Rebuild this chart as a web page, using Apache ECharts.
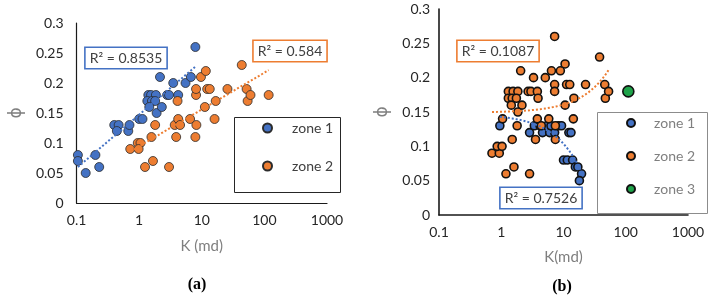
<!DOCTYPE html>
<html>
<head>
<meta charset="utf-8">
<script src="https://cdn.jsdelivr.net/npm/echarts@6.0.0/dist/echarts.min.js"></script>
<style>
  body { margin: 0; background: #fff; }
  #chartA, #chartB { position: absolute; top: 0; height: 296px; }
  #chartA { left: 0; width: 360px; }
  #chartB { left: 360px; width: 349px; }
</style>
</head>
<body>
<div id="chartA"></div>
<div id="chartB"></div>
<script>
// (a) porosity vs permeability, two zones
const aZone1K = [0.105, 0.105, 0.14, 0.20, 0.23, 0.40, 0.47, 0.44, 0.67, 0.70, 1.0, 1.13,
    1.4, 1.55, 1.85, 1.35, 1.6, 1.8, 1.45, 1.9, 2.3, 2.15, 2.8, 3.0, 3.5, 4.2, 5.5, 6.7, 7.9];
const aZone1Phi = [0.08, 0.07, 0.05, 0.08, 0.06, 0.13, 0.13, 0.12, 0.12, 0.13, 0.14, 0.14,
    0.18, 0.18, 0.18, 0.17, 0.17, 0.17, 0.16, 0.15, 0.16, 0.21, 0.18, 0.18, 0.20, 0.18, 0.20, 0.21, 0.26];
const aZone2K = [0.72, 0.95, 1.05, 0.98, 1.24, 1.57, 1.66, 1.8, 3.0, 3.7, 3.9, 4.1, 4.2, 4.5, 6.5, 7.9,
    8.1, 8.1, 8.2, 9.7, 11.6, 11.2, 12.2, 13.4, 16.7, 16.0, 25.7, 43.5, 52, 54, 60, 117];
const aZone2Phi = [0.09, 0.10, 0.10, 0.09, 0.06, 0.11, 0.07, 0.13, 0.06, 0.13, 0.11, 0.17, 0.14, 0.13, 0.14, 0.11,
    0.18, 0.19, 0.13, 0.21, 0.22, 0.16, 0.19, 0.19, 0.17, 0.14, 0.19, 0.23, 0.19, 0.17, 0.18, 0.18];

// (b) same plot, three zones
const bZone1K = [0.95, 2.85, 3.4, 4.2, 4.6, 5.4, 6.0, 6.3, 7.2, 8.3, 9.3, 12.2, 13.2,
    10, 11.5, 14, 15.5, 17, 19.5, 18];
const bZone1Phi = [0.13, 0.12, 0.13, 0.13, 0.12, 0.13, 0.12, 0.13, 0.12, 0.13, 0.13, 0.12, 0.12,
    0.08, 0.08, 0.08, 0.07, 0.07, 0.06, 0.05];
const bZone2K = [0.71, 0.93, 0.86, 1.03, 1.05, 1.19, 1.6, 1.5, 1.3, 1.55, 1.85, 1.3, 1.5, 1.75, 1.45,
    2.15, 1.85, 1.8, 2.05, 2.7, 3.0, 3.3, 3.8, 3.9, 2.85, 3.55, 3.8, 4.4, 5.1, 6.4, 8.9, 10.6,
    7.2, 7.2, 7.2, 5.8, 7.4, 7.4, 11.2, 12.6, 14.7, 10.6, 14.4, 22.6, 38, 46, 47, 53];
const bZone2Phi = [0.09, 0.09, 0.10, 0.10, 0.14, 0.06, 0.07, 0.11, 0.18, 0.18, 0.18, 0.17, 0.17, 0.17, 0.16,
    0.16, 0.15, 0.13, 0.21, 0.18, 0.18, 0.20, 0.18, 0.17, 0.06, 0.11, 0.14, 0.13, 0.20, 0.21, 0.21, 0.22,
    0.26, 0.19, 0.18, 0.14, 0.13, 0.11, 0.19, 0.19, 0.17, 0.16, 0.14, 0.19, 0.23, 0.19, 0.17, 0.18];
const bZone3K = [110];
const bZone3Phi = [0.18];

const rSquared = { a1: '0.8535', a2: '0.584', b1: '0.7526', b2: '0.1087' };

const BLUE = '#4472C4', ORANGE = '#ED7D31', GREEN = '#1FA34A';
const FONT = 'Lato, "Noto Sans", sans-serif';

function pairs(xs, ys) {
    return xs.map((x, i) => [x, ys[i]]);
}

// least squares y = a*f(x) + b
function fit(xs, ys, f) {
    let n = xs.length, sx = 0, sy = 0, sxx = 0, sxy = 0;
    for (let i = 0; i < n; i++) {
        let u = f(xs[i]);
        sx += u; sy += ys[i]; sxx += u * u; sxy += u * ys[i];
    }
    let a = (n * sxy - sx * sy) / (n * sxx - sx * sx);
    let b = (sy - a * sx) / n;
    return x => a * f(x) + b;
}

function trendLine(xs, ys, kind) {
    let fn = fit(xs, ys, kind === 'log' ? Math.log : (x => x));
    let lo = Math.min(...xs), hi = Math.max(...xs);
    let out = [];
    for (let i = 0; i <= 80; i++) {
        let x = lo * Math.pow(hi / lo, i / 80);
        out.push([x, fn(x)]);
    }
    return out;
}

function xAxisLog(name, gap, size, lineW) {
    return {
        type: 'log', logBase: 10, min: 0.1, max: 1000,
        name: name, nameLocation: 'middle', nameGap: gap,
        nameTextStyle: { color: '#7f7f7f', fontSize: 15, fontFamily: FONT },
        axisLine: { lineStyle: { color: '#1a1a1a', width: lineW } },
        axisTick: { show: false },
        splitLine: { show: false },
        axisLabel: {
            color: '#262626', fontSize: size, fontFamily: FONT, margin: 10,
            formatter: v => String(Number(v.toPrecision(3)))
        }
    };
}

function yAxisPhi(gap, size, lineW, margin) {
    return {
        type: 'value', min: 0, max: 0.3, interval: 0.05,
        name: 'ϕ', nameLocation: 'middle', nameGap: gap,
        nameTextStyle: { color: '#7f7f7f', fontSize: 17, fontFamily: '"DejaVu Sans", sans-serif' },
        axisLine: { show: true, lineStyle: { color: '#1a1a1a', width: lineW } },
        axisTick: { show: false },
        splitLine: { show: false },
        axisLabel: { color: '#262626', fontSize: size, fontFamily: FONT, margin: margin }
    };
}

function scatter(name, xs, ys, color, size, border, bw) {
    return {
        name: name, type: 'scatter', data: pairs(xs, ys), symbolSize: size, z: 2,
        itemStyle: { color: color, opacity: 1, borderColor: border, borderWidth: bw }
    };
}

function trend(xs, ys, kind, color) {
    return {
        type: 'line', data: trendLine(xs, ys, kind), showSymbol: false, symbol: 'none',
        silent: true, z: 3,
        lineStyle: { color: color, width: 2, type: 'dotted' }
    };
}

function rBox(text, x, y, color) {
    return {
        type: 'text', x: x, y: y, z: 100,
        style: {
            text: 'R² = ' + text, align: 'center', verticalAlign: 'middle',
            fill: '#404040', font: '14px ' + FONT,
            backgroundColor: '#fff', borderColor: color, borderWidth: 1.6, padding: [3, 4]
        }
    };
}

function frame(x, y, w, h, color) {
    return {
        type: 'rect', z: 1,
        shape: { x: x, y: y, width: w, height: h },
        style: { fill: '#fff', stroke: color, lineWidth: 1 }
    };
}

function caption(text, x, y) {
    return {
        type: 'text', x: x, y: y, z: 100,
        style: {
            text: text, align: 'center', verticalAlign: 'middle', fill: '#000',
            font: 'bold 16px "Liberation Serif", serif'
        }
    };
}

let chartA = echarts.init(document.getElementById('chartA'));
chartA.setOption({
    animation: false,
    grid: { left: 67, top: 23, width: 260, height: 180 },
    xAxis: xAxisLog('K (md)', 36, 14, 1.2),
    yAxis: yAxisPhi(50, 14, 1.2, 13),
    legend: {
        data: ['zone 1', 'zone 2'], orient: 'vertical', left: 262, top: 121, padding: 0,
        itemWidth: 9, itemHeight: 9, itemGap: 24, z: 5,
        textStyle: { color: '#404040', fontSize: 14, fontFamily: FONT, lineHeight: 14, padding: [0, 0, 0, 15] }
    },
    graphic: [
        frame(234.5, 117.5, 106, 75, '#262626'),
        rBox(rSquared.a1, 126, 58, BLUE),
        rBox(rSquared.a2, 290, 51, ORANGE),
        caption('(a)', 197, 285)
    ],
    series: [
        scatter('zone 1', aZone1K, aZone1Phi, BLUE, 9, '#2b2b2b', 0.8),
        scatter('zone 2', aZone2K, aZone2Phi, ORANGE, 9, '#2b2b2b', 0.8),
        trend(aZone1K, aZone1Phi, 'log', BLUE),
        trend(aZone2K, aZone2Phi, 'log', ORANGE)
    ]
});

let chartB = echarts.init(document.getElementById('chartB'));
chartB.setOption({
    animation: false,
    grid: { left: 79, top: 9, width: 249, height: 206 },
    xAxis: xAxisLog('K(md)', 35, 14, 1.6),
    yAxis: yAxisPhi(47, 14, 1.6, 9),
    legend: {
        data: ['zone 1', 'zone 2', 'zone 3'], orient: 'vertical', left: 266, top: 116, padding: 0,
        itemWidth: 8, itemHeight: 8, itemGap: 19, z: 5,
        textStyle: { color: '#7f7f7f', fontSize: 14, fontFamily: FONT, lineHeight: 14, padding: [0, 0, 0, 14] }
    },
    graphic: [
        frame(237.5, 112.5, 110, 101, '#8c8c8c'),
        rBox(rSquared.b2, 138, 51, ORANGE),
        rBox(rSquared.b1, 181, 198, BLUE),
        caption('(b)', 202, 287)
    ],
    series: [
        scatter('zone 1', bZone1K, bZone1Phi, BLUE, 8, '#111', 1.6),
        scatter('zone 2', bZone2K, bZone2Phi, ORANGE, 8, '#111', 1.6),
        scatter('zone 3', bZone3K, bZone3Phi, GREEN, 11, '#111', 1.6),
        trend(bZone1K, bZone1Phi, 'lin', BLUE),
        trend(bZone2K, bZone2Phi, 'lin', ORANGE)
    ]
});
</script>
</body>
</html>
